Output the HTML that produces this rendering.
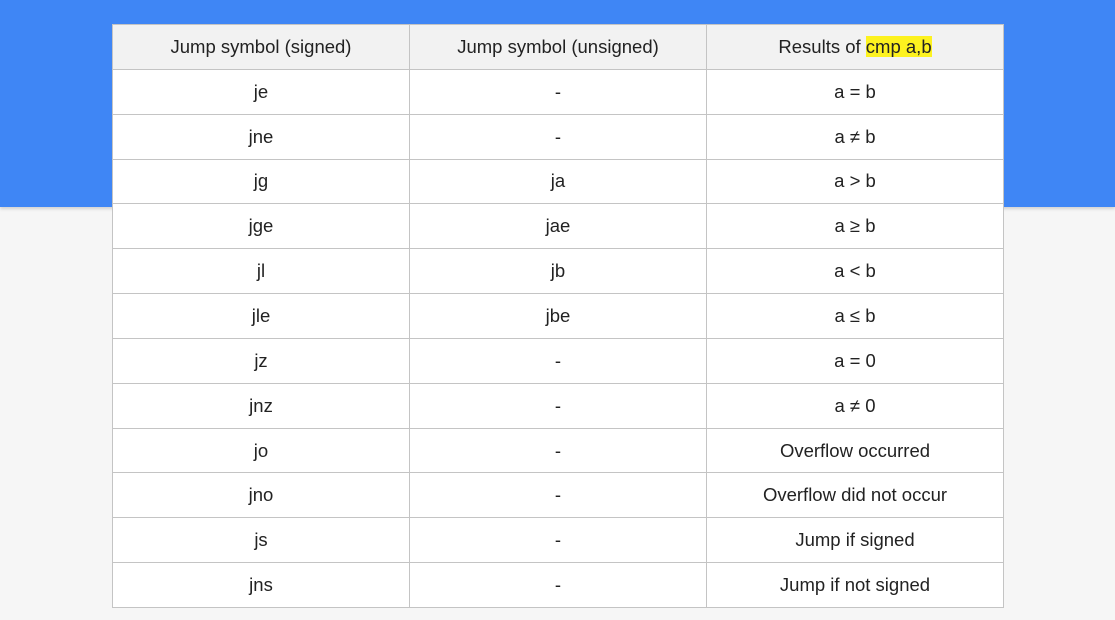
<!DOCTYPE html>
<html><head><style>
html,body{margin:0;padding:0;width:1115px;height:620px;overflow:hidden;background:#f6f6f6;}
.blue{position:absolute;left:0;top:0;width:1115px;height:207px;background:#3f86f5;box-shadow:0 2px 3px rgba(0,0,0,0.15);}
table{position:absolute;left:112px;top:24px;border-collapse:collapse;font-family:"Liberation Sans",sans-serif;font-size:18.5px;color:#222;}
td{width:296px;height:43.85px;border:1px solid #c4c4c4;text-align:center;background:#fff;padding:0;}
tr.h td{background:#f2f2f2;}
.hl{background:#fdf21f;}
</style></head><body>
<div class="blue"></div>
<table>
<tr class="h"><td>Jump symbol (signed)</td><td>Jump symbol (unsigned)</td><td>Results of <span class="hl">cmp a,b</span></td></tr>
<tr><td>je</td><td>-</td><td>a = b</td></tr>
<tr><td>jne</td><td>-</td><td>a ≠ b</td></tr>
<tr><td>jg</td><td>ja</td><td>a &gt; b</td></tr>
<tr><td>jge</td><td>jae</td><td>a ≥ b</td></tr>
<tr><td>jl</td><td>jb</td><td>a &lt; b</td></tr>
<tr><td>jle</td><td>jbe</td><td>a ≤ b</td></tr>
<tr><td>jz</td><td>-</td><td>a = 0</td></tr>
<tr><td>jnz</td><td>-</td><td>a ≠ 0</td></tr>
<tr><td>jo</td><td>-</td><td>Overflow occurred</td></tr>
<tr><td>jno</td><td>-</td><td>Overflow did not occur</td></tr>
<tr><td>js</td><td>-</td><td>Jump if signed</td></tr>
<tr><td>jns</td><td>-</td><td>Jump if not signed</td></tr>
</table>
</body></html>
